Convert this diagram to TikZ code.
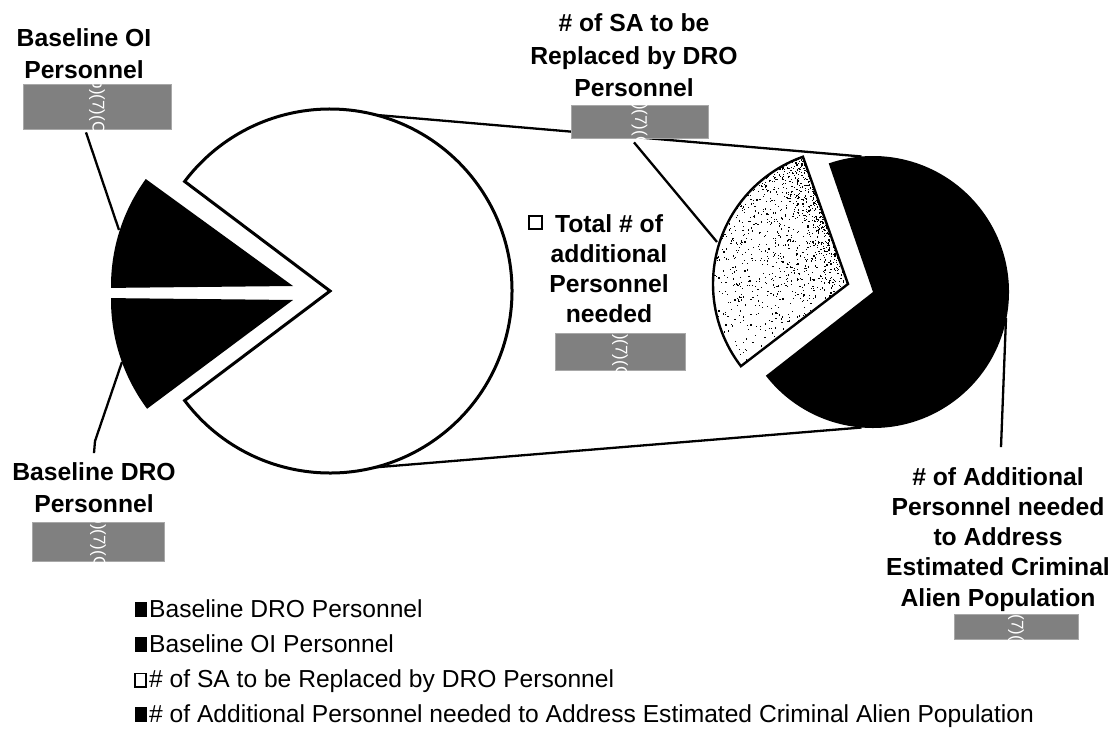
\documentclass[tikz,border=0pt]{standalone}
\usepackage{fontspec}
\setmainfont{Liberation Sans}
\usetikzlibrary{calc}
\definecolor{redgray}{HTML}{808080}
\definecolor{redgrayedge}{HTML}{A8A8A8}
\begin{document}
\begin{tikzpicture}[x=1pt,y=1pt,
  pieline/.style={line width=3pt,line join=miter},
  conn/.style={line width=2.3pt},
  leader/.style={line width=2.3pt},
  lbl/.style={font=\bfseries\fontsize{24.7}{32.5}\selectfont,align=center,inner sep=0pt,anchor=north},
  lbltight/.style={lbl,font=\bfseries\fontsize{24.7}{30.2}\selectfont},
  redact/.style={fill=redgray,draw=redgrayedge,line width=0.8pt,inner sep=0pt},
  redtxt/.style={text=white,font=\fontsize{17}{17}\selectfont,rotate=-90,inner sep=0pt},
  legtxt/.style={font=\fontsize{24.6}{28}\selectfont,anchor=base west,inner sep=0pt},
  legsq/.style={minimum width=12pt,minimum height=15pt,inner sep=0pt,anchor=south east},
]
\useasboundingbox (0,0) rectangle (1118,-754);

% centres
\coordinate (C1) at (330,-291);
\coordinate (Cu) at (293,-286);
\coordinate (Cl) at (293,-300);
\coordinate (C2) at (873,-292);
\coordinate (S) at (848,-284);

% tangent connector ends
\coordinate (tt1) at ($(C1)+(94.86:182)$);
\coordinate (tt2) at ($(C2)+(94.86:136)$);
\coordinate (tb1) at ($(C1)+(-94.86:182)$);
\coordinate (tb2) at ($(C2)+(-94.86:136)$);
\draw[conn] (tt1) -- (tt2);
\draw[conn] (tb1) -- (tb2);

% big pie
\filldraw[fill=white,pieline] (C1) -- ++(-143:182) arc[start angle=-143,end angle=143,radius=182] -- cycle;
\fill[black] (Cu) -- ++(144:182) arc[start angle=144,end angle=180.6,radius=182] -- cycle;
\fill[black] (Cl) -- ++(179.4:182) arc[start angle=179.4,end angle=216.7,radius=182] -- cycle;

% small pie
\fill[black] (C2) -- ++(-142:136) arc[start angle=-142,end angle=109,radius=136] -- cycle;
\fill[white] (S) -- ++(109.5:135) arc[start angle=109.5,end angle=217.5,radius=135] -- cycle;
\pgfmathsetseed{12345}
\begin{scope}
  \clip (S) -- ++(109.5:135) arc[start angle=109.5,end angle=217.5,radius=135] -- cycle;
  \foreach \i in {1,...,1150}{
    \pgfmathsetmacro\ang{109.5+108*pow(rnd,2.2)}
    \pgfmathsetmacro\rad{135*pow(rnd,0.6)}
    \fill[black,shift={(S)}] (\ang:\rad) rectangle ++(1.2,1.2);
  }
\end{scope}
\draw[line width=2.4pt,line join=miter] (S) -- ++(109.5:135) arc[start angle=109.5,end angle=217.5,radius=135] -- cycle;

% labels
\node[lbl] (lab1) at (84,-28.1) {Baseline OI\\Personnel};
\node[lbl] (lab2) at (94,-462.1) {Baseline DRO\\Personnel};
\node[lbl] (lab3) at (634,-13.5) {\# of SA to be\\Replaced by DRO\\Personnel};
\node[lbltight] (lab4) at (609,-214.1) {Total \# of\\additional\\Personnel\\needed};
\node[draw=black,line width=2pt,minimum size=12.5pt,inner sep=0pt] (sq4) at (535.5,-222.5) {};
\node[lbltight] (lab5) at (998,-467.1) {\# of Additional\\Personnel needed\\to Address\\Estimated Criminal\\Alien Population};

% redaction boxes
\node[redact,minimum width=148pt,minimum height=45pt] (r1) at (97,-106.5) {};
\node[redact,minimum width=132pt,minimum height=39pt] (r2) at (98,-541.5) {};
\node[redact,minimum width=137pt,minimum height=33pt] (r3) at (639.5,-121.5) {};
\node[redact,minimum width=130pt,minimum height=37pt] (r4) at (620,-351.5) {};
\node[redact,minimum width=124pt,minimum height=25pt] (r5) at (1016,-626.5) {};
\foreach \r in {r1,r2,r3,r4,r5}{
  \begin{scope}
    \clip (\r.south west) rectangle (\r.north east);
    \node[redtxt] at (\r.center) {(b)(7)(C)};
  \end{scope}
}

% leader lines
\coordinate (d1) at (119,-230);
\coordinate (d2) at (122,-362);
\coordinate (d3) at (717,-242);
\coordinate (d5) at (1006,-318);
\draw[leader] ([xshift=-11pt,yshift=-3pt]r1.south) -- (d1);
\draw[leader] ([yshift=9pt]lab2.north) -- ++(1,12) -- (d2);
\draw[leader] ([xshift=-5.5pt,yshift=-4pt]r3.south) -- (d3);
\draw[leader] (d5) -- ([xshift=3pt,yshift=20pt]lab5.north);

% legend
\node[legsq,fill=black] (k1) at (147,-617) {};
\node[legtxt] (e1) at (149,-617) {Baseline DRO Personnel};
\node[legsq,fill=black] (k2) at (147,-652) {};
\node[legtxt] (e2) at (149,-652) {Baseline OI Personnel};
\node[legsq,draw=black,line width=1.5pt,fill=white,minimum width=11pt,minimum height=13.5pt] (k3) at (146.5,-687.5) {};
\node[legtxt] (e3) at (149,-687) {\# of SA to be Replaced by DRO Personnel};
\node[legsq,fill=black] (k4) at (147,-722) {};
\node[legtxt] (e4) at (149,-722) {\# of Additional Personnel needed to Address Estimated Criminal Alien Population};
\end{tikzpicture}
\end{document}
